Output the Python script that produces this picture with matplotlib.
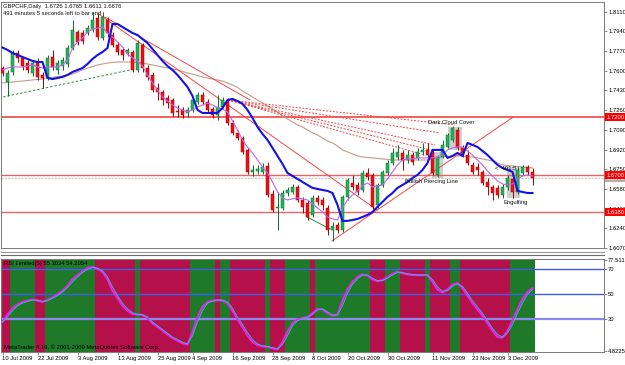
import matplotlib
matplotlib.use("Agg")
import matplotlib.pyplot as plt
import matplotlib.transforms as mtransforms
from matplotlib.lines import Line2D
from matplotlib.patches import Rectangle
import numpy as np

plt.rcParams.update({"font.family": ["Liberation Sans Narrow", "Liberation Sans", "DejaVu Sans"],
                     "font.size": 4.2})
FS = 4.2

# ---- GBPCHF daily bars, index 0 = 10 Jul 2009
opens = [1.7624, 1.7503, 1.7590, 1.7754, 1.7711, 1.7667, 1.7581, 1.7676, 1.7564, 1.7547,
         1.7719, 1.7607, 1.7641, 1.7659, 1.7797, 1.7935, 1.7926, 1.7926, 1.7952, 1.8056,
         1.7883, 1.8038, 1.7909, 1.7823, 1.7780, 1.7754, 1.7762, 1.7607, 1.7823, 1.7624,
         1.7564, 1.7452, 1.7417, 1.7365, 1.7348, 1.7253, 1.7262, 1.7236, 1.7262, 1.7331,
         1.7391, 1.7331, 1.7270, 1.7219, 1.7288, 1.7331, 1.7150, 1.7063, 1.7020, 1.6917,
         1.6727, 1.6735, 1.6727, 1.6778, 1.6537, 1.6416, 1.6416, 1.6545, 1.6554, 1.6597,
         1.6485, 1.6459, 1.6356, 1.6502, 1.6485, 1.6416, 1.6226, 1.6269, 1.6226, 1.6511,
         1.6632, 1.6614, 1.6571, 1.6718, 1.6701, 1.6442, 1.6614, 1.6718, 1.6804, 1.6856,
         1.6891, 1.6830, 1.6873, 1.6848, 1.6899, 1.6917, 1.6891, 1.6701, 1.6856, 1.6942,
         1.7003, 1.7089, 1.6934, 1.6873, 1.6787, 1.6770, 1.6727, 1.6640, 1.6597, 1.6589,
         1.6528, 1.6597, 1.6666, 1.6554, 1.6718, 1.6770, 1.6726]
highs = [1.7641, 1.7607, 1.7780, 1.7780, 1.7719, 1.7693, 1.7693, 1.7711, 1.7590, 1.7736,
         1.7780, 1.7693, 1.7719, 1.7823, 1.8038, 1.7952, 1.7952, 1.7995, 1.8107, 1.8099,
         1.8107, 1.8064, 1.7935, 1.7849, 1.7805, 1.7797, 1.7780, 1.7866, 1.7840, 1.7650,
         1.7590, 1.7495, 1.7434, 1.7391, 1.7365, 1.7305, 1.7288, 1.7288, 1.7374, 1.7417,
         1.7417, 1.7357, 1.7288, 1.7391, 1.7374, 1.7365, 1.7175, 1.7089, 1.7037, 1.6934,
         1.6787, 1.6787, 1.6804, 1.6813, 1.6571, 1.6554, 1.6571, 1.6597, 1.6623, 1.6614,
         1.6511, 1.6485, 1.6528, 1.6528, 1.6511, 1.6442, 1.6295, 1.6295, 1.6528, 1.6675,
         1.6701, 1.6640, 1.6744, 1.6761, 1.6718, 1.6632, 1.6744, 1.6830, 1.6934, 1.6960,
         1.6917, 1.6917, 1.6899, 1.6934, 1.6977, 1.6977, 1.6917, 1.6873, 1.7003, 1.7063,
         1.7124, 1.7115, 1.6960, 1.6917, 1.6813, 1.6804, 1.6744, 1.6675, 1.6614, 1.6614,
         1.6623, 1.6701, 1.6692, 1.6770, 1.6787, 1.6787, 1.6765]
lows = [1.7555, 1.7383, 1.7564, 1.7676, 1.7607, 1.7581, 1.7555, 1.7521, 1.7452, 1.7521,
        1.7607, 1.7572, 1.7607, 1.7633, 1.7780, 1.7823, 1.7831, 1.7909, 1.7935, 1.7866,
        1.7866, 1.7892, 1.7805, 1.7736, 1.7693, 1.7728, 1.7590, 1.7590, 1.7590, 1.7521,
        1.7417, 1.7348, 1.7305, 1.7279, 1.7210, 1.7201, 1.7193, 1.7201, 1.7244, 1.7314,
        1.7305, 1.7236, 1.7193, 1.7175, 1.7279, 1.7132, 1.7046, 1.7003, 1.6882, 1.6709,
        1.6692, 1.6709, 1.6709, 1.6511, 1.6381, 1.6226, 1.6399, 1.6520, 1.6537, 1.6468,
        1.6373, 1.6312, 1.6338, 1.6442, 1.6399, 1.6183, 1.6131, 1.6200, 1.6209, 1.6485,
        1.6571, 1.6528, 1.6554, 1.6658, 1.6399, 1.6416, 1.6597, 1.6701, 1.6787, 1.6830,
        1.6744, 1.6804, 1.6787, 1.6830, 1.6873, 1.6856, 1.6701, 1.6684, 1.6848, 1.6934,
        1.6986, 1.6917, 1.6856, 1.6787, 1.6709, 1.6701, 1.6614, 1.6528, 1.6485, 1.6502,
        1.6502, 1.6571, 1.6502, 1.6537, 1.6701, 1.6701, 1.6611]
closes = [1.7581, 1.7581, 1.7754, 1.7711, 1.7641, 1.7607, 1.7667, 1.7547, 1.7538, 1.7711,
          1.7633, 1.7667, 1.7693, 1.7797, 1.7952, 1.7849, 1.7857, 1.7969, 1.8038, 1.7892,
          1.8064, 1.7926, 1.7823, 1.7762, 1.7736, 1.7780, 1.7607, 1.7840, 1.7624, 1.7547,
          1.7434, 1.7417, 1.7348, 1.7322, 1.7236, 1.7244, 1.7219, 1.7262, 1.7348, 1.7391,
          1.7331, 1.7262, 1.7219, 1.7288, 1.7348, 1.7150, 1.7063, 1.7020, 1.6899, 1.6727,
          1.6744, 1.6753, 1.6770, 1.6528, 1.6399, 1.6425, 1.6545, 1.6571, 1.6597, 1.6485,
          1.6425, 1.6338, 1.6502, 1.6468, 1.6442, 1.6226, 1.6261, 1.6226, 1.6511, 1.6658,
          1.6597, 1.6554, 1.6718, 1.6684, 1.6425, 1.6614, 1.6727, 1.6804, 1.6891, 1.6899,
          1.6830, 1.6873, 1.6813, 1.6899, 1.6917, 1.6873, 1.6718, 1.6856, 1.6960, 1.7046,
          1.7106, 1.6934, 1.6873, 1.6804, 1.6727, 1.6744, 1.6632, 1.6597, 1.6545, 1.6528,
          1.6597, 1.6675, 1.6554, 1.6744, 1.6770, 1.6727, 1.6676]

# indicator lines on the price chart
ma_blue = [1.7801, 1.7780, 1.7754, 1.7736, 1.7719, 1.7702, 1.7685, 1.7676, 1.7676, 1.7538,
           1.7529, 1.7538, 1.7547, 1.7564, 1.7590, 1.7607, 1.7624, 1.7659, 1.7702, 1.7736,
           1.7762, 1.7797, 1.8004, 1.8004, 1.7978, 1.7952, 1.7926, 1.7909, 1.7874, 1.7840,
           1.7788, 1.7736, 1.7685, 1.7641, 1.7607, 1.7564, 1.7512, 1.7460, 1.7383, 1.7262,
           1.7236, 1.7236, 1.7236, 1.7236, 1.7279, 1.7348, 1.7357, 1.7339, 1.7314, 1.7262,
           1.7193, 1.7115, 1.7055, 1.7003, 1.6934, 1.6865, 1.6796, 1.6718, 1.6692, 1.6666,
           1.6640, 1.6614, 1.6589, 1.6580, 1.6571, 1.6563, 1.6545, 1.6442, 1.6304, 1.6304,
           1.6312, 1.6321, 1.6338, 1.6356, 1.6381, 1.6425, 1.6468, 1.6511, 1.6545, 1.6589,
           1.6614, 1.6640, 1.6675, 1.6701, 1.6744, 1.6804, 1.6917, 1.6917, 1.6917, 1.6848,
           1.6865, 1.6891, 1.6865, 1.6977, 1.6960, 1.6942, 1.6908, 1.6873, 1.6830, 1.6787,
           1.6761, 1.6744, 1.6727, 1.6563, 1.6554, 1.6545, 1.6545]
ma_violet = [1.7607, 1.7624, 1.7633, 1.7633, 1.7633, 1.7641, 1.7650, 1.7633, 1.7624, 1.7633,
             1.7633, 1.7633, 1.7650, 1.7693, 1.7797, 1.7849, 1.7883, 1.7935, 1.7961, 1.7969,
             1.7978, 1.7926, 1.7892, 1.7849, 1.7805, 1.7745, 1.7711, 1.7685, 1.7641, 1.7564,
             1.7495, 1.7434, 1.7374, 1.7339, 1.7305, 1.7279, 1.7262, 1.7244, 1.7262, 1.7288,
             1.7305, 1.7322, 1.7305, 1.7279, 1.7270, 1.7244, 1.7167, 1.7089, 1.7003, 1.6942,
             1.6891, 1.6830, 1.6770, 1.6718, 1.6640, 1.6554, 1.6502, 1.6485, 1.6494, 1.6502,
             1.6494, 1.6485, 1.6451, 1.6416, 1.6381, 1.6338, 1.6321, 1.6312, 1.6416, 1.6485,
             1.6528, 1.6563, 1.6606, 1.6632, 1.6597, 1.6606, 1.6614, 1.6666, 1.6727, 1.6787,
             1.6830, 1.6839, 1.6839, 1.6848, 1.6848, 1.6848, 1.6848, 1.6856, 1.6873, 1.6917,
             1.6934, 1.6942, 1.6942, 1.6908, 1.6873, 1.6830, 1.6787, 1.6735, 1.6692, 1.6649,
             1.6623, 1.6614, 1.6623, 1.6666, 1.6692, 1.6701, 1.6692]
ma_brown = [1.7495, 1.7499, 1.7503, 1.7508, 1.7512, 1.7516, 1.7521, 1.7525, 1.7529, 1.7538,
            1.7542, 1.7551, 1.7555, 1.7564, 1.7572, 1.7590, 1.7607, 1.7624, 1.7637, 1.7650,
            1.7659, 1.7667, 1.7672, 1.7676, 1.7676, 1.7676, 1.7676, 1.7672, 1.7667, 1.7659,
            1.7650, 1.7641, 1.7633, 1.7624, 1.7615, 1.7607, 1.7594, 1.7581, 1.7572, 1.7559,
            1.7547, 1.7538, 1.7529, 1.7521, 1.7512, 1.7495, 1.7477, 1.7456, 1.7426, 1.7400,
            1.7374, 1.7348, 1.7322, 1.7296, 1.7270, 1.7244, 1.7210, 1.7184, 1.7158, 1.7132,
            1.7115, 1.7089, 1.7063, 1.7046, 1.7020, 1.6994, 1.6977, 1.6951, 1.6917, 1.6899,
            1.6882, 1.6865, 1.6856, 1.6852, 1.6848, 1.6843, 1.6839, 1.6835, 1.6830, 1.6830,
            1.6830, 1.6830, 1.6830, 1.6830, 1.6830, 1.6830, 1.6839, 1.6848, 1.6856, 1.6860,
            1.6865, 1.6865, 1.6865, 1.6856, 1.6856, 1.6848, 1.6839, 1.6830, 1.6822, 1.6804,
            1.6787, 1.6783, 1.6778, 1.6774, 1.6770, 1.6765, 1.6761]

# RSI window
rsi_main = [28, 34, 39, 42, 44, 45, 46, 45, 44, 45.5,
            47.5, 50, 53, 57, 62, 65.5, 68.5, 71, 72, 70.5,
            68, 62, 53, 47, 41, 37, 34.5, 34, 33.6, 31,
            27, 24, 21, 18, 15, 13, 11, 10, 20, 32,
            40, 44, 45, 45.5, 45, 43, 37, 30, 24, 17,
            12, 9.5, 8.5, 8, 7, 6, 12, 20, 27, 30,
            31, 32, 35, 38.5, 38, 35, 33, 34, 45, 54,
            60, 64, 66, 65, 62, 60.5, 61.5, 64, 66.5, 68,
            67, 66, 65.5, 65.5, 65.5, 65.5, 60, 54, 51.5, 54,
            58, 59, 55, 49, 43, 38, 33, 27, 21, 16,
            15.5, 21, 29, 38, 46, 52, 55]
rsi_signal = [28, 32, 37, 41, 43, 44.5, 45.5, 45.5, 44.5, 45,
              47, 49, 52, 55.5, 60, 64, 67.5, 70, 71.5, 71,
              69, 64, 56, 49, 43, 38.5, 35.5, 34, 33.8, 32,
              28, 25, 22, 19, 16, 14, 12, 10.5, 17, 28,
              37, 43, 44.5, 45.5, 45.5, 44, 39, 32, 26, 19.5,
              14, 10.5, 9, 8.5, 7.5, 6.5, 10, 17, 25, 29,
              31, 31.5, 34, 37.5, 38.5, 36, 33.5, 33.5, 41, 51,
              58, 62.5, 65.5, 65.5, 63, 61, 61, 63, 65.5, 67.5,
              67.5, 66.5, 66, 65.5, 65.5, 65.5, 62, 56, 52.5, 53,
              56.5, 58.5, 56.5, 51, 45, 40, 35, 29, 23, 18,
              16, 19, 26, 35, 43, 50, 54]
# background state of the RSI window: (state, number of bars)
band_runs = [("dn", 2), ("up", 5), ("dn", 2), ("up", 10), ("dn", 8), ("up", 1), ("dn", 10),
             ("up", 5), ("dn", 1), ("up", 2), ("dn", 7), ("up", 1), ("dn", 3), ("up", 5),
             ("dn", 1), ("up", 11), ("dn", 3), ("up", 3), ("dn", 5), ("up", 1), ("dn", 4),
             ("up", 2), ("dn", 10), ("up", 5)]
rsi_levels = [70, 50, 30]
rsi_ticks = [77.5113, 70, 50, 30, 4.82255]
rsi_ticklabels = ["77.5113", "70", "50", "30", "4.82255"]

price_ticks = [1.8110, 1.7940, 1.7770, 1.7600, 1.7430, 1.7260, 1.7090,
               1.6920, 1.6750, 1.6580, 1.6410, 1.6240, 1.6070]
date_labels = ["10 Jul 2009", "22 Jul 2009", "3 Aug 2009", "13 Aug 2009", "25 Aug 2009",
               "4 Sep 2009", "16 Sep 2009", "28 Sep 2009", "8 Oct 2009", "20 Oct 2009",
               "30 Oct 2009", "11 Nov 2009", "23 Nov 2009", "3 Dec 2009"]
date_bars = [0, 7, 15, 23, 31, 38, 46, 54, 62, 69, 77, 86, 94, 101]

# drawn objects: horizontal levels, trend lines (bar, price, bar, price), pattern boxes, labels
h_levels = [1.7200, 1.6700, 1.6380]
bid_price = 1.6676
red_trends = [(19.5, 1.8082, 74.9, 1.6399), (20.5, 1.8064, 49.5, 1.7348),
              (65.9, 1.6131, 102.1, 1.7200)]
fan_start = (45.1, 1.7348)
fan_ends = [(90.5, 1.7132), (87.5, 1.7063), (86.5, 1.6960), (85.5, 1.6917), (84.5, 1.6873)]
green_dashed = (0.1, 1.7374, 25.5, 1.7607)
green_solid = (60.9, 1.6338, 65.5, 1.6235)
pattern_boxes = [(89.1, 91.9, 1.6917, 1.7115), (85.9, 88.1, 1.6675, 1.6899),
                 (100.9, 103.5, 1.6502, 1.6770)]
pattern_labels = [("Dark Cloud Cover", 85.1, 1.7150), ("Bullish Piercing Line", 80.5, 1.6640),
                  ("Engulfing", 100.1, 1.6459), ("<  491:5", 98.5, 1.6753)]

UP, UP_EDGE, DN, DN_EDGE = "#22B45A", "#0B6B2E", "#F01010", "#A00000"
BAND_UP, BAND_DN = "#1E7A28", "#B5104A"
AX_GREY = "#7A7A7A"

fig = plt.figure(figsize=(6.25, 3.65), dpi=100)
W, H = 625.0, 365.0
ax = fig.add_axes([1 / W, 1 - 248 / H, 603 / W, 246 / H])
ax2 = fig.add_axes([1 / W, 1 - 352 / H, 603 / W, 93 / H])
XL = (-0.3, 120.3)

# ---- price window
x = np.arange(len(closes))
o, h, l, c = (np.array(v) for v in (opens, highs, lows, closes))
up = c >= o
for x0, x1, p0, p1 in pattern_boxes:
    ax.add_patch(Rectangle((x0, p0), x1 - x0, p1 - p0, fc="#CFCFCF", ec="none", zorder=1))
for lev in h_levels:
    ax.axhline(lev, color="#F06060", lw=1.0 if lev != 1.72 else 1.4, zorder=2)
ax.axhline(bid_price, color="#C8C8C8", lw=0.8, ls=(0, (2, 1)), zorder=2)
ax.plot(ma_brown, color="#C49A8C", lw=0.8, zorder=3)
for b0, p0, b1, p1 in red_trends:
    ax.plot([b0, b1], [p0, p1], color="#F04848", lw=0.7, zorder=3)
for b1, p1 in fan_ends:
    ax.plot([fan_start[0], b1], [fan_start[1], p1], color="#F04848", lw=0.7,
            ls=(0, (2, 1.5)), zorder=3)
ax.plot(green_dashed[::2], green_dashed[1::2], color="#2E8B3A", lw=0.7, ls=(0, (2.5, 2)), zorder=3)
ax.plot(green_solid[::2], green_solid[1::2], color="#2E8B3A", lw=0.7, zorder=3)

ax.vlines(x[up], l[up], h[up], color=UP_EDGE, lw=0.7, zorder=4)
ax.vlines(x[~up], l[~up], h[~up], color=DN_EDGE, lw=0.7, zorder=4)
body = np.maximum(np.abs(c - o), 0.00035)
ax.bar(x[up], body[up], bottom=np.minimum(o, c)[up], width=0.62, color=UP,
       edgecolor=UP_EDGE, lw=0.35, zorder=5)
ax.bar(x[~up], body[~up], bottom=np.minimum(o, c)[~up], width=0.62, color=DN,
       edgecolor=DN_EDGE, lw=0.35, zorder=5)

ax.plot(ma_violet, color="#C066F0", lw=0.8, zorder=6)
ax.plot(ma_blue, color="#1212E6", lw=1.5, zorder=7)

for txt, bx, py in pattern_labels:
    ax.text(bx, py, txt, fontsize=FS, color="#111111", va="center", ha="left", zorder=8)

ax.text(0.003, 0.993, "GBPCHF,Daily  1.6726 1.6765 1.6611 1.6676", transform=ax.transAxes,
        va="top", ha="left", fontsize=FS, color="#111111")
ax.text(0.003, 0.962, "491 minutes 5 seconds left to bar end", transform=ax.transAxes,
        va="top", ha="left", fontsize=FS, color="#111111")

ax.set_xlim(*XL)
ax.set_ylim(1.6071, 1.8194)
ax.set_xticks([])
ax.yaxis.tick_right()
ax.set_yticks(price_ticks)
ax.set_yticklabels([f"{t:.4f}" for t in price_ticks])
ax.tick_params(axis="y", length=2, width=0.6, pad=1.0, labelsize=FS, color=AX_GREY)
blend = mtransforms.blended_transform_factory(ax.transAxes, ax.transData)
ax.text(1.004, bid_price - 0.0006, f"{bid_price:.4f}", transform=blend, va="center", ha="left",
        fontsize=FS, color="white", zorder=9, clip_on=False,
        bbox=dict(boxstyle="square,pad=0.2", fc="#B0B0B0", ec="none"))
for lev in h_levels:
    ax.text(1.004, lev, f"{lev:.4f}", transform=blend, va="center", ha="left", fontsize=FS,
            color="white", zorder=10, clip_on=False,
            bbox=dict(boxstyle="square,pad=0.2", fc="#FF0000", ec="none"))

# ---- RSI window
start = 0
for state, n in band_runs:
    ax2.axvspan(start - 0.5, start + n - 0.5, color=BAND_UP if state == "up" else BAND_DN,
                lw=0, zorder=1)
    start += n
for lev in rsi_levels:
    ax2.axhline(lev, color="#8C86F0" if lev == 30 else "#3F5FE8", lw=1.6 if lev == 30 else 1.0,
                zorder=2)
ax2.plot(rsi_main, color="#F01EF0", lw=1.5, zorder=3)
ax2.plot(rsi_signal, color="#22C8C8", lw=0.6, zorder=4)
ax2.text(0.005, 0.975, "RSI Limited(5) 55.3034 54.2054", transform=ax2.transAxes, va="top",
         ha="left", fontsize=FS, color="black")
ax2.text(0.005, 0.025, "MetaTrader 4.19, \u00a9 2001-2009 MetaQuotes Software Corp.",
         transform=ax2.transAxes, va="bottom", ha="left", fontsize=FS, color="black")
ax2.set_xlim(*XL)
ax2.set_ylim(4.02, 78.31)
ax2.yaxis.tick_right()
ax2.set_yticks(rsi_ticks)
ax2.set_yticklabels(rsi_ticklabels)
ax2.set_xticks(date_bars)
ax2.set_xticklabels(date_labels)
for lab in ax2.get_xticklabels():
    lab.set_ha("left")
ax2.tick_params(axis="both", length=2, width=0.6, pad=1.0, labelsize=FS, color=AX_GREY)

for a in (ax, ax2):
    for s in a.spines.values():
        s.set_color(AX_GREY)
        s.set_linewidth(0.7)

# window separator between the panes
for ypx, col in [(251.5, "#9A9A9A"), (255.0, "#6E6E6E")]:
    fig.add_artist(Line2D([1 / W, 604 / W], [1 - ypx / H] * 2, color=col, lw=0.8))

fig.savefig("out.png", dpi=100, facecolor="white")
